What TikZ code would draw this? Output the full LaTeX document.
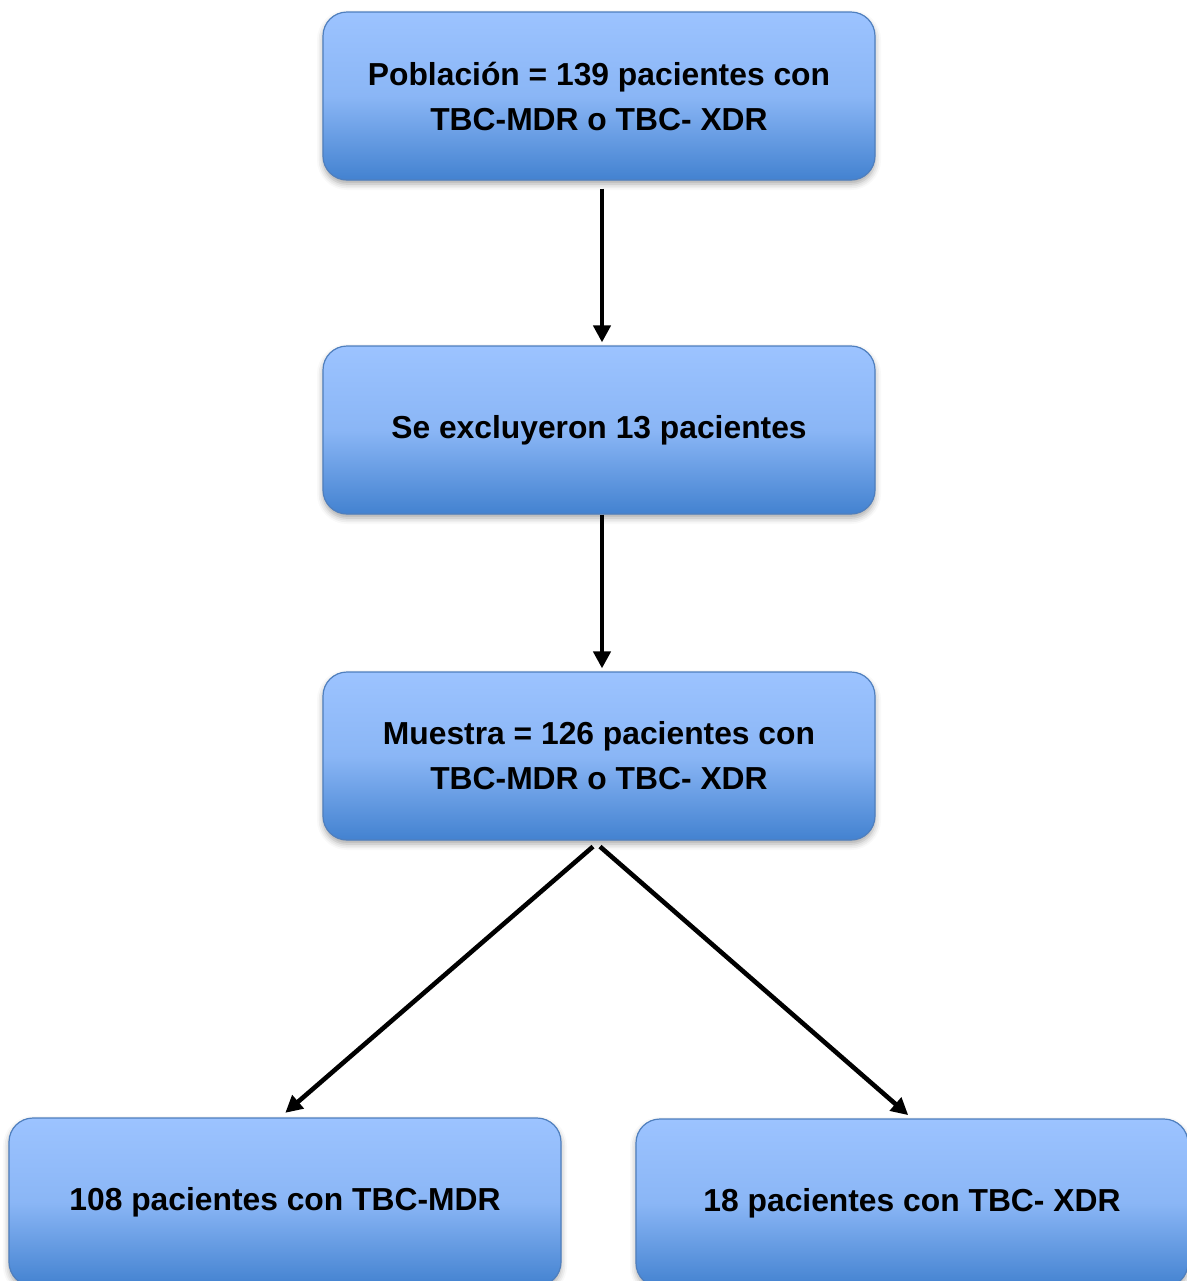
\documentclass[tikz,border=0pt]{standalone}
\usepackage{fontspec}
\setmainfont{Liberation Sans}
\usetikzlibrary{arrows.meta,shadows.blur}
\definecolor{cajaArriba}{HTML}{9CC3FF}
\definecolor{cajaAbajo}{HTML}{4382D0}
\definecolor{cajaBorde}{HTML}{4F7FBE}
\tikzset{
  caja/.style={draw=cajaBorde, line width=0.6pt, rounded corners=12pt,
    top color=cajaArriba, bottom color=cajaAbajo, middle color=cajaArriba!80!cajaAbajo,
    minimum width=276pt, minimum height=84pt, align=center,
    font=\fontsize{15.9}{22.5}\selectfont\bfseries,
    blur shadow={shadow xshift=0pt, shadow yshift=-2pt, shadow blur radius=3pt, shadow opacity=35}},
  flecha/.style={-{Triangle[length=8.5pt,width=8.5pt]}, line width=2.3pt, black},
}

\begin{document}
\begin{tikzpicture}[x=0.5pt, y=-0.5pt]
\clip (0,0) rectangle (1187,1281);
\useasboundingbox (0,0) rectangle (1187,1281);
% Boxes
\node[caja] (pob) at (599,96) {Población = 139 pacientes con\\TBC-MDR o TBC- XDR};
\node[caja] (excl) at (599,430) {Se excluyeron 13 pacientes};
\node[caja] (mues) at (599,756) {Muestra = 126 pacientes con\\TBC-MDR o TBC- XDR};
\node[caja] (mdr) at (285,1202) {108 pacientes con TBC-MDR};
\node[caja] (xdr) at (912,1203) {18 pacientes con TBC- XDR};
% Arrows
\draw[flecha, shorten <=4pt, shorten >=1.5pt] ([xshift=1.5pt]pob.south) -- ([xshift=1.5pt]excl.north);
\draw[flecha, shorten >=1.5pt] ([xshift=1.5pt]excl.south) -- ([xshift=1.5pt]mues.north);
\draw[flecha, shorten >=3.5pt] ([xshift=-3pt,yshift=-3pt]mues.south) -- ([xshift=-2.5pt]mdr.north);
\draw[flecha, shorten >=2.5pt] ([xshift=0.5pt,yshift=-3pt]mues.south) -- (xdr.north);
\end{tikzpicture}
\end{document}
